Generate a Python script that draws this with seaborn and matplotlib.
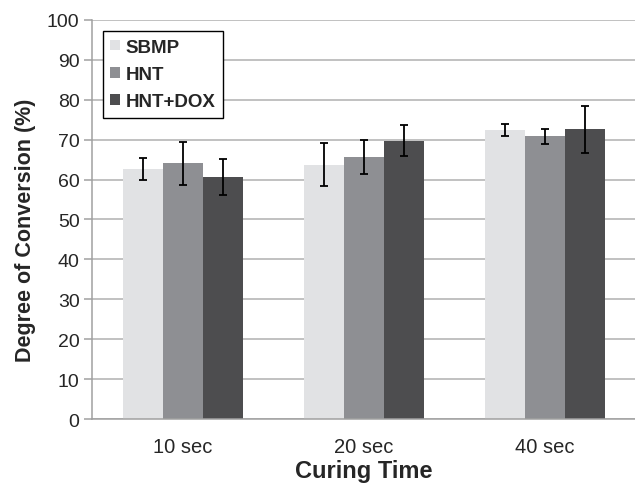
import matplotlib
matplotlib.use("Agg")
import matplotlib.pyplot as plt
import seaborn as sns
import pandas as pd
import numpy as np

categories = ["10 sec", "20 sec", "40 sec"]
groups = ["SBMP", "HNT", "HNT+DOX"]
sbmp_mean = [62.7, 63.7, 72.4]
sbmp_err = [2.7, 5.4, 1.6]
hnt_mean = [64.1, 65.7, 70.8]
hnt_err = [5.4, 4.3, 1.9]
dox_mean = [60.7, 69.7, 72.6]
dox_err = [4.5, 3.9, 5.9]
colors = ["#e1e2e4", "#8e8f93", "#4d4d4f"]

means = [sbmp_mean, hnt_mean, dox_mean]
errs = [sbmp_err, hnt_err, dox_err]
rows = []
for g, m in zip(groups, means):
    for c, v in zip(categories, m):
        rows.append({"time": c, "group": g, "value": v})
df = pd.DataFrame(rows)

sns.set_style("white")
plt.rcParams["font.family"] = ["Liberation Sans", "DejaVu Sans"]

fig = plt.figure(figsize=(6.35, 4.85), dpi=100)
ax = fig.add_axes([0.145, 0.134, 0.855, 0.823])

sns.barplot(data=df, x="time", y="value", hue="group", order=categories,
            hue_order=groups, palette=colors, width=0.663, errorbar=None,
            saturation=1, ax=ax, zorder=2, edgecolor="none", linewidth=0)

for cont, e in zip(ax.containers, errs):
    xs = [p.get_x() + p.get_width() / 2 for p in cont.patches]
    hs = [p.get_height() for p in cont.patches]
    ax.errorbar(xs, hs, yerr=e, fmt="none", ecolor="black", elinewidth=1.3,
                capsize=3.0, capthick=1.3, zorder=3)

ax.set_ylim(0, 100)
ax.set_xlim(-0.5, 2.5)
ax.set_yticks(np.arange(0, 101, 10))
ax.yaxis.grid(True, color="#b0b0b0", linewidth=1.1, zorder=0)
ax.set_axisbelow(True)
for s in ["top", "right"]:
    ax.spines[s].set_visible(False)
for s in ["left", "bottom"]:
    ax.spines[s].set_color("#a0a0a0")
    ax.spines[s].set_linewidth(1.1)
ax.tick_params(axis="y", length=6, color="#a0a0a0", width=1.1, labelsize=14, pad=3, left=True)
ax.tick_params(axis="x", length=0, labelsize=14.5, pad=13)

ax.set_xlabel("Curing Time", fontsize=17, fontweight="bold", labelpad=2)
ax.set_ylabel("Degree of Conversion (%)", fontsize=15.5, fontweight="bold")
ax.yaxis.set_label_coords(-0.104, 0.476)

leg = ax.legend(loc="upper left", bbox_to_anchor=(0.02, 0.972), borderaxespad=0,
                frameon=True, fancybox=False, edgecolor="black",
                handlelength=0.5, handleheight=0.5, handletextpad=0.3,
                labelspacing=0.55, borderpad=0.4,
                prop={"weight": "bold", "size": 13.5})
leg.get_frame().set_linewidth(1.0)
leg.get_frame().set_facecolor("white")
leg.get_frame().set_alpha(1)

fig.savefig("out.png", dpi=100)
